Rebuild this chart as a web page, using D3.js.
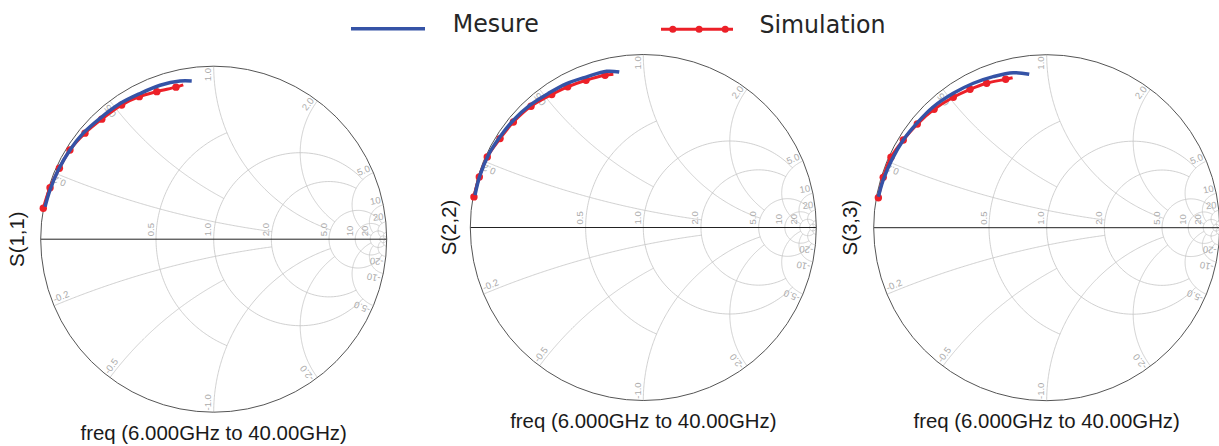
<!DOCTYPE html>
<html><head><meta charset="utf-8">
<script src="https://cdn.jsdelivr.net/npm/d3@7/dist/d3.min.js"></script>
<style>html,body{margin:0;padding:0;background:#fff;} svg{display:block;}</style>
</head><body>
<svg id="chart" width="1219" height="446"></svg>
<script>
// ---------------- data ----------------
const panelTitles = ["S(1,1)", "S(2,2)", "S(3,3)"];
const freqLabel = "freq (6.000GHz to 40.00GHz)";
const seriesNames = ["Mesure", "Simulation"];

// reflection coefficients [Re, Im], 6 GHz -> 40 GHz
const mesure11 = [[-0.975,0.188],[-0.946,0.285],[-0.898,0.401],[-0.831,0.516],[-0.754,0.613],[-0.657,0.699],[-0.541,0.784],[-0.426,0.842],[-0.310,0.890],[-0.195,0.915],[-0.127,0.915]];
const simulation11 = [[-0.985,0.179],[-0.946,0.298],[-0.892,0.410],[-0.831,0.516],[-0.744,0.613],[-0.647,0.694],[-0.532,0.776],[-0.430,0.824],[-0.329,0.853],[-0.218,0.879],[-0.176,0.892]];
const mesure22 = [[-0.973,0.187],[-0.944,0.302],[-0.896,0.418],[-0.828,0.524],[-0.751,0.620],[-0.655,0.707],[-0.549,0.775],[-0.443,0.832],[-0.327,0.871],[-0.212,0.903],[-0.139,0.899]];
const simulation22 = [[-0.979,0.177],[-0.948,0.292],[-0.902,0.408],[-0.828,0.514],[-0.751,0.610],[-0.649,0.701],[-0.529,0.769],[-0.437,0.813],[-0.331,0.851],[-0.221,0.880],[-0.173,0.886]];
const mesure33 = [[-0.973,0.179],[-0.945,0.276],[-0.896,0.391],[-0.829,0.507],[-0.751,0.603],[-0.655,0.699],[-0.540,0.777],[-0.424,0.835],[-0.309,0.873],[-0.193,0.896],[-0.101,0.887]];
const simulation33 = [[-0.973,0.173],[-0.945,0.291],[-0.900,0.407],[-0.829,0.507],[-0.748,0.599],[-0.651,0.684],[-0.540,0.754],[-0.443,0.800],[-0.347,0.835],[-0.237,0.858],[-0.197,0.867]];

// Smith grid: constant-resistance circles and constant-reactance arcs (with clip limits)
const rValues = [0.5, 1, 2, 5, 10, 20, 50];
const rClipX  = [1, 5, 5, 20, 20, 50, Infinity];
const xValues = [0.2, 0.5, 1, 2, 5, 10, 20, 50];
const xClipR  = [2, 1, 5, 5, 20, 20, 50, Infinity];
const rTickValues = [0.5, 1, 2, 5, 10, 20];
const rTickLabels = ["0.5", "1.0", "2.0", "5.0", "10", "20"];
const xTickValues = [0.2, 0.5, 1, 2, 5, 10, 20];
const xTickLabels = ["0.2", "0.5", "1.0", "2.0", "5.0", "10", "20"];

// ---------------- layout ----------------
const measured = [mesure11, mesure22, mesure33];
const simulated = [simulation11, simulation22, simulation33];
const layout = [{cx:213.7, cy:239.2, tx:24}, {cx:643.3, cy:227.5, tx:455.5}, {cx:1046.7, cy:227.7, tx:856.5}];
const R = 173;
const blue = "#3553a6", red = "#ec2028";
const gridColor = "#c4c4c4", labelColor = "#ababab";
const svg = d3.select("#chart");

function gamma(r, x) {
  const d = (r + 1) * (r + 1) + x * x;
  return [(r * r - 1 + x * x) / d, (2 * x) / d];
}

layout.forEach((L, i) => {
  const sx = d3.scaleLinear().domain([-1, 1]).range([L.cx - R, L.cx + R]);
  const sy = d3.scaleLinear().domain([-1, 1]).range([L.cy + R, L.cy - R]);
  const line = d3.line().x(d => sx(d[0])).y(d => sy(d[1]));
  const g = svg.append("g");
  const N = 160;

  // resistance circles
  rValues.forEach((r, k) => {
    const c = r / (1 + r), rho = 1 / (1 + r);
    let a0 = 0, a1 = 2 * Math.PI;
    if (isFinite(rClipX[k])) {
      const G = gamma(r, rClipX[k]);
      a0 = Math.atan2(G[1], G[0] - c);
      a1 = 2 * Math.PI - a0;
    }
    const pts = d3.range(N + 1).map(j => {
      const a = a0 + (a1 - a0) * j / N;
      return [c + rho * Math.cos(a), rho * Math.sin(a)];
    });
    g.append("path").attr("d", line(pts)).attr("fill", "none")
      .attr("stroke", gridColor).attr("stroke-width", 0.8);
  });

  // reactance arcs
  xValues.forEach((xv, k) => {
    [xv, -xv].forEach(x => {
      const cyc = 1 / x, rho = 1 / Math.abs(x);
      const G0 = gamma(0, x);
      const G1 = isFinite(xClipR[k]) ? gamma(xClipR[k], x) : [1, 0];
      const p0 = Math.atan2(G0[1] - cyc, G0[0] - 1);
      const p1 = Math.atan2(G1[1] - cyc, G1[0] - 1);
      let d = p1 - p0;
      while (d > Math.PI) d -= 2 * Math.PI;
      while (d < -Math.PI) d += 2 * Math.PI;
      const pts = d3.range(N + 1).map(j => {
        const a = p0 + d * j / N;
        return [1 + rho * Math.cos(a), cyc + rho * Math.sin(a)];
      });
      g.append("path").attr("d", line(pts)).attr("fill", "none")
        .attr("stroke", gridColor).attr("stroke-width", 0.8);
    });
  });

  // resistance labels on the real axis
  rTickValues.forEach((r, k) => {
    const u = (r - 1) / (r + 1);
    g.append("text")
      .attr("transform", `translate(${sx(u)},${sy(0) - 3}) rotate(-90)`)
      .attr("x", 0).attr("y", -2.5)
      .attr("font-family", "Liberation Sans, Arial, sans-serif")
      .attr("font-size", 9.5).attr("fill", labelColor)
      .text(rTickLabels[k]);
  });

  // reactance labels at the rim
  xTickValues.forEach((xv, k) => {
    [1, -1].forEach(s => {
      const G = gamma(0, s * xv);
      const px = sx(G[0] * 0.99), py = sy(G[1] * 0.99);
      const ang = Math.atan2(py - L.cy, px - L.cx) * 180 / Math.PI;
      g.append("text")
        .attr("transform", `translate(${px},${py}) rotate(${s > 0 ? ang : ang + 180})`)
        .attr("x", 0).attr("y", -2.5)
        .attr("text-anchor", s > 0 ? "end" : "start")
        .attr("font-family", "Liberation Sans, Arial, sans-serif")
        .attr("font-size", 9.5).attr("fill", labelColor)
        .text((s < 0 ? "-" : "") + xTickLabels[k]);
    });
  });

  // real axis and outer rim
  g.append("line").attr("x1", sx(-1)).attr("x2", sx(1)).attr("y1", sy(0)).attr("y2", sy(0))
    .attr("stroke", "#222").attr("stroke-width", 1);
  g.append("circle").attr("cx", sx(0)).attr("cy", sy(0)).attr("r", sx(1) - sx(0))
    .attr("fill", "none").attr("stroke", "#555").attr("stroke-width", 1);

  // data
  const curve = d3.line().x(d => sx(d[0])).y(d => sy(d[1])).curve(d3.curveCatmullRom);
  const sim = simulated[i];
  g.append("path").attr("d", curve(sim)).attr("fill", "none")
    .attr("stroke", red).attr("stroke-width", 3);
  g.selectAll(null).data(sim.slice(0, sim.length - 1)).enter().append("circle")
    .attr("cx", d => sx(d[0])).attr("cy", d => sy(d[1])).attr("r", 3.7).attr("fill", red);
  g.append("path").attr("d", curve(measured[i])).attr("fill", "none")
    .attr("stroke", blue).attr("stroke-width", 3.5).attr("stroke-linecap", "butt");

  // titles
  g.append("text")
    .attr("transform", `translate(${L.tx},${L.cy}) rotate(-90)`)
    .attr("text-anchor", "middle")
    .attr("font-family", "Liberation Sans, Arial, sans-serif")
    .attr("font-size", 20.4).attr("fill", "#1a1a1a")
    .text(panelTitles[i]);
  g.append("text")
    .attr("x", L.cx).attr("y", L.cy + R + 27.5)
    .attr("text-anchor", "middle")
    .attr("font-family", "Liberation Sans, Arial, sans-serif")
    .attr("font-size", 20.4).attr("fill", "#1a1a1a")
    .text(freqLabel);
});

// legend
const lg = svg.append("g");
lg.append("line").attr("x1", 351).attr("x2", 425).attr("y1", 28.7).attr("y2", 28.7)
  .attr("stroke", blue).attr("stroke-width", 3.4);
lg.append("text").attr("transform", "translate(452.7,31.7) scale(1,1.08)")
  .attr("font-family", "DejaVu Sans, sans-serif").attr("font-size", 23.7).attr("fill", "#262626")
  .text(seriesNames[0]);
lg.append("line").attr("x1", 661).attr("x2", 733).attr("y1", 29.2).attr("y2", 29.2)
  .attr("stroke", red).attr("stroke-width", 3);
lg.selectAll(null).data([672.8, 699.1, 725.2]).enter().append("circle")
  .attr("cx", d => d).attr("cy", 29.2).attr("r", 3.5).attr("fill", red);
lg.append("text").attr("transform", "translate(759.4,33) scale(1,1.08)")
  .attr("font-family", "DejaVu Sans, sans-serif").attr("font-size", 23.7).attr("fill", "#262626")
  .text(seriesNames[1]);
</script>
</body></html>
